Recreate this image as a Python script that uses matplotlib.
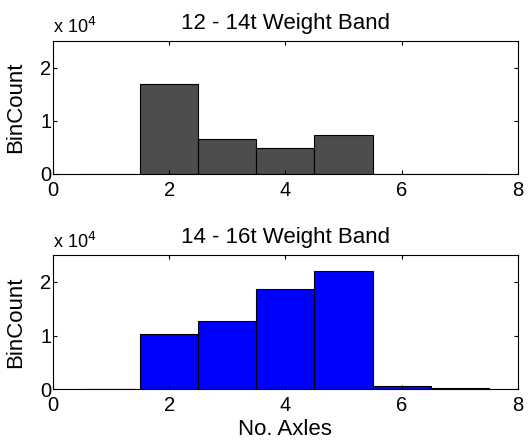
import numpy as np
import matplotlib
matplotlib.use('Agg')
import matplotlib.pyplot as plt
from matplotlib.ticker import FuncFormatter

plt.rcParams['font.family'] = ['Liberation Sans', 'DejaVu Sans']

# numero de ejes y conteos por banda de peso
axles = [1, 2, 3, 4, 5, 6, 7]
cuenta_12_14 = [0, 16900, 6650, 4800, 7400, 80, 60]
cuenta_14_16 = [0, 10400, 12700, 18700, 22100, 550, 200]
titulos = ['12 - 14t Weight Band', '14 - 16t Weight Band']
colores = ['#4d4d4d', '#0000ff']

fig = plt.figure(figsize=(5.28, 4.46), dpi=100)
ax1 = fig.add_axes([0.100, 0.610, 0.881, 0.298])
ax2 = fig.add_axes([0.100, 0.127, 0.881, 0.301])

# posicion vertical del texto "x 10^4" (fraccion del eje)
y_factor = [1.06, 1.052]

for ax, cuenta, titulo, color, yf in zip([ax1, ax2], [cuenta_12_14, cuenta_14_16], titulos, colores, y_factor):
    ax.bar(axles, cuenta, width=1.0, color=color, edgecolor='black', linewidth=0.8)
    ax.set_xlim(0, 8)
    ax.set_ylim(0, 25000)
    ax.set_xticks([0, 2, 4, 6, 8])
    ax.set_yticks([0, 10000, 20000])
    ax.yaxis.set_major_formatter(FuncFormatter(lambda v, p: '%d' % round(v / 1e4)))
    ax.tick_params(direction='in', length=3, top=True, right=True, labelsize=14.5)
    ax.tick_params(axis='x', pad=5)
    ax.tick_params(axis='y', pad=1)
    ax.set_ylabel('BinCount', fontsize=16, labelpad=10)
    ax.set_title(titulo, fontsize=16, pad=9)
    ax.text(0.0, yf, 'x 10$^4$', transform=ax.transAxes, fontsize=13, ha='left', va='baseline')
    for s in ax.spines.values():
        s.set_linewidth(0.8)

ax2.set_xlabel('No. Axles', fontsize=16, labelpad=3)

fig.savefig('out.png', dpi=100)
